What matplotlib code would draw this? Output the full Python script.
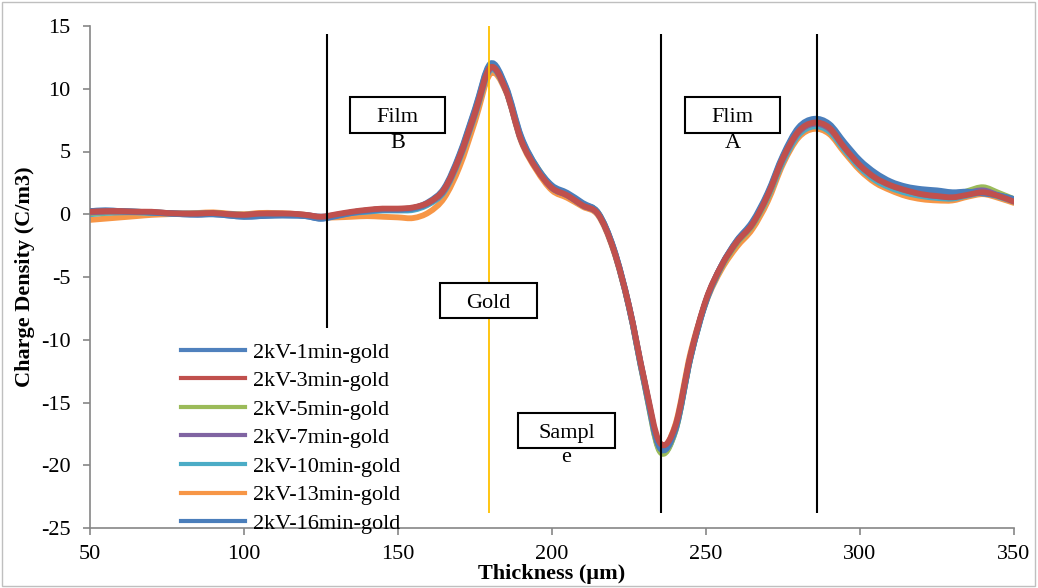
import numpy as np
import matplotlib
matplotlib.use("Agg")
import matplotlib.pyplot as plt
from matplotlib.path import Path
from matplotlib.patches import PathPatch, Rectangle
from matplotlib.lines import Line2D

plt.rcParams["font.family"] = ["Liberation Serif", "DejaVu Serif"]
plt.rcParams["axes.unicode_minus"] = False

thickness = np.arange(50, 351, 5)

v_1min = [0.25, 0.3, 0.25, 0.2, 0.15, 0.05, 0.0, -0.05, 0.0, -0.1,
          -0.2, -0.15, -0.1, -0.1, -0.15, -0.35, -0.15, 0.1, 0.25, 0.35,
          0.35, 0.45, 0.9, 2.0, 4.7, 8.3, 11.9, 10.1, 6.1, 3.7,
          2.2, 1.6, 0.8, 0.1, -2.7, -7.3, -13.3, -18.5, -17.1, -11.3,
          -6.9, -4.1, -2.1, -0.7, 1.6, 4.6, 6.8, 7.5, 7.1, 5.6,
          4.2, 3.2, 2.5, 2.1, 1.9, 1.8, 1.7, 1.75, 1.7, 1.5,
          1.2]
v_3min = [0.2, 0.25, 0.25, 0.2, 0.2, 0.1, 0.05, 0.05, 0.1, 0.0,
          -0.05, 0.05, 0.05, 0.05, -0.05, -0.2, 0.0, 0.2, 0.35, 0.45,
          0.45, 0.55, 0.95, 2.0, 4.6, 8.1, 11.7, 9.9, 5.9, 3.6,
          2.1, 1.5, 0.7, 0.0, -2.8, -7.3, -13.2, -18.2, -16.9, -11.2,
          -6.8, -4.1, -2.2, -0.8, 1.5, 4.5, 6.6, 7.3, 6.9, 5.3,
          3.9, 2.9, 2.3, 1.9, 1.6, 1.45, 1.35, 1.55, 1.75, 1.45,
          1.0]
v_5min = [0.1, 0.15, 0.2, 0.2, 0.15, 0.1, 0.05, 0.05, 0.1, 0.0,
          -0.05, 0.0, 0.0, 0.0, -0.1, -0.25, -0.1, 0.15, 0.3, 0.4,
          0.4, 0.5, 0.9, 1.9, 4.5, 8.0, 11.6, 9.9, 6.0, 3.8,
          2.2, 1.6, 0.8, 0.1, -2.8, -7.4, -13.5, -18.9, -17.3, -11.4,
          -6.9, -4.2, -2.3, -0.9, 1.4, 4.4, 6.5, 7.2, 6.8, 5.3,
          3.9, 2.9, 2.3, 1.9, 1.6, 1.5, 1.45, 1.85, 2.15, 1.7,
          1.2]
v_7min = [0.15, 0.2, 0.2, 0.2, 0.15, 0.1, 0.05, 0.05, 0.05, 0.0,
          -0.05, 0.0, 0.05, 0.0, -0.05, -0.2, -0.05, 0.15, 0.3, 0.4,
          0.4, 0.5, 0.9, 1.9, 4.5, 8.0, 11.6, 9.9, 5.9, 3.7,
          2.1, 1.5, 0.7, 0.0, -2.8, -7.4, -13.4, -18.6, -17.1, -11.3,
          -6.9, -4.1, -2.2, -0.8, 1.5, 4.4, 6.5, 7.2, 6.8, 5.3,
          3.9, 2.9, 2.3, 1.9, 1.6, 1.45, 1.4, 1.7, 1.9, 1.5,
          1.1]
v_10min = [0.0, 0.1, 0.15, 0.15, 0.1, 0.1, 0.05, 0.05, 0.05, 0.0,
           -0.05, 0.0, 0.0, 0.0, -0.1, -0.2, -0.1, 0.1, 0.2, 0.3,
           0.3, 0.35, 0.8, 1.8, 4.4, 7.9, 11.5, 9.9, 5.9, 3.7,
           2.1, 1.5, 0.7, 0.0, -2.8, -7.4, -13.5, -18.8, -17.3, -11.4,
           -7.0, -4.2, -2.3, -0.9, 1.3, 4.2, 6.3, 7.0, 6.6, 5.1,
           3.7, 2.7, 2.1, 1.7, 1.45, 1.3, 1.25, 1.5, 1.7, 1.4,
           1.0]
v_13min = [-0.45, -0.35, -0.25, -0.15, -0.05, 0.0, 0.05, 0.1, 0.15, 0.05,
           0.0, 0.1, 0.1, 0.05, -0.05, -0.25, -0.25, -0.2, -0.15, -0.2,
           -0.25, -0.3, 0.15, 1.3, 3.8, 7.4, 11.2, 9.8, 5.8, 3.5,
           1.9, 1.3, 0.6, -0.1, -2.9, -7.4, -13.4, -18.4, -16.8, -11.0,
           -7.0, -4.4, -2.6, -1.2, 1.0, 4.0, 6.1, 6.8, 6.4, 4.9,
           3.5, 2.5, 1.9, 1.45, 1.2, 1.1, 1.1, 1.4, 1.6, 1.3,
           0.9]
v_16min = [0.25, 0.3, 0.25, 0.2, 0.15, 0.1, 0.0, 0.0, 0.0, -0.1,
           -0.2, -0.15, -0.1, -0.1, -0.15, -0.35, -0.1, 0.15, 0.3, 0.4,
           0.4, 0.5, 1.0, 2.1, 4.8, 8.4, 12.0, 10.2, 6.2, 3.8,
           2.3, 1.7, 0.9, 0.1, -2.7, -7.3, -13.3, -18.6, -17.2, -11.4,
           -6.9, -4.1, -2.1, -0.6, 1.7, 4.7, 6.9, 7.6, 7.2, 5.7,
           4.3, 3.3, 2.6, 2.2, 2.0, 1.9, 1.75, 1.8, 1.65, 1.5,
           1.2]

labels = ["2kV-1min-gold", "2kV-3min-gold", "2kV-5min-gold", "2kV-7min-gold",
          "2kV-10min-gold", "2kV-13min-gold", "2kV-16min-gold"]
series = [v_1min, v_3min, v_5min, v_7min, v_10min, v_13min, v_16min]
colors = ["#4F81BD", "#C0504D", "#9BBB59", "#8064A2", "#4BACC6", "#F79646", "#4A7EBB"]
zorders = [2.5, 3.0, 2.3, 2.4, 2.2, 2.1, 2.6]

# boundary markers (x position, bottom of line)
markers_x = [127, 235.4, 286]
markers_bottom = [-9.1, -23.8, -23.8]
gold_x = 179.5


def smooth_path(x, y):
    # Excel-style smoothed line: Catmull-Rom segments as cubic Beziers
    n = len(x)
    verts = [(x[0], y[0])]
    codes = [Path.MOVETO]
    for i in range(n - 1):
        xa, ya = (x[i - 1], y[i - 1]) if i > 0 else (x[i], y[i])
        xd, yd = (x[i + 2], y[i + 2]) if i + 2 < n else (x[i + 1], y[i + 1])
        c1 = (x[i] + (x[i + 1] - xa) / 6, y[i] + (y[i + 1] - ya) / 6)
        c2 = (x[i + 1] - (xd - x[i]) / 6, y[i + 1] - (yd - y[i]) / 6)
        verts += [c1, c2, (x[i + 1], y[i + 1])]
        codes += [Path.CURVE4] * 3
    return Path(verts, codes)


W, H = 1038, 588
FS = 16
fig = plt.figure(figsize=(W / 100, H / 100), dpi=100)
ax = fig.add_axes([90 / W, 1 - 528 / H, 924 / W, 502 / H])

for vals, c, z in zip(series, colors, zorders):
    p = smooth_path(list(thickness), vals)
    ax.add_patch(PathPatch(p, fill=False, edgecolor=c, lw=4.2,
                           capstyle="round", joinstyle="round", zorder=z))

ax.vlines(markers_x, markers_bottom, 14.4, colors="black", lw=1.5, zorder=4)
ax.vlines(gold_x, -23.8, 15, colors="#FFC000", lw=1.3, zorder=4)

ax.set_xlim(50, 350)
ax.set_ylim(-25, 15)
ax.set_xticks(np.arange(50, 351, 50))
ax.set_yticks(np.arange(-25, 16, 5))
for s in ["top", "right"]:
    ax.spines[s].set_visible(False)
for s in ["left", "bottom"]:
    ax.spines[s].set_color("#868686")
    ax.spines[s].set_linewidth(1.2)
ax.tick_params(direction="out", length=5, width=1.2, color="#868686",
               labelsize=FS)
ax.tick_params(axis="y", pad=9)
ax.tick_params(axis="x", pad=7)

ax.set_xlabel("Thickness (µm)", fontsize=FS, fontweight="bold", labelpad=0)
ax.set_ylabel("Charge Density (C/m3)", fontsize=FS, fontweight="bold", labelpad=4)

handles = [Line2D([], [], color=c, lw=3) for c in colors]
ax.legend(handles, labels, loc="upper left", bbox_to_anchor=(181 / W, 1 - 342 / H),
          bbox_transform=fig.transFigure, frameon=False, fontsize=FS,
          handlelength=2.9, handletextpad=0.32, labelspacing=0.36,
          borderpad=0, borderaxespad=0)


def fx(x):
    return x / W


def fy(y):
    return 1 - y / H


# text boxes (pixel positions)
boxes = [
    (350, 97, 95, 36, "Film", "B"),
    (685, 97, 95, 36, "Flim", "A"),
    (440, 283, 97, 35, "Gold", None),
    (518, 413, 97, 35, "Sampl", "e"),
]
for x0, y0, w, h, top, bottom in boxes:
    fig.patches.append(Rectangle((fx(x0), fy(y0 + h)), w / W, h / H, fill=True,
                                 facecolor="white", edgecolor="black", lw=1.5,
                                 transform=fig.transFigure, zorder=5))
    fig.text(fx(x0 + w / 2), fy(y0 + h / 2 + 3), top, ha="center", va="center",
             fontsize=FS, zorder=6)
    if bottom:
        fig.text(fx(x0 + w / 2), fy(y0 + h + 10), bottom, ha="center", va="center",
                 fontsize=FS, zorder=6)

fig.patches.append(Rectangle((0.002, 0.003), 0.995, 0.994, fill=False,
                             edgecolor="#BFBFBF", lw=1, transform=fig.transFigure))

fig.savefig("out.png", dpi=100)
